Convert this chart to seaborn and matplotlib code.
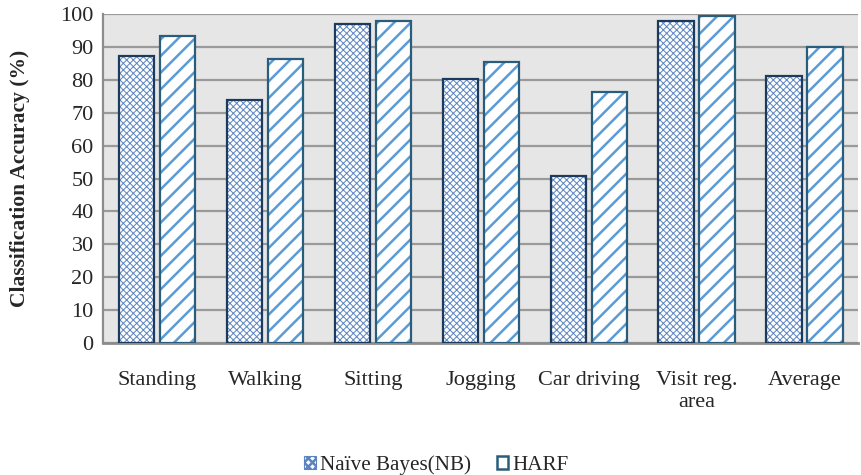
import numpy as np, pandas as pd
import seaborn as sns
import matplotlib.pyplot as plt
from matplotlib.patches import Rectangle

activities = ["Standing", "Walking", "Sitting", "Jogging", "Car driving", "Visit reg.\narea", "Average"]
nb_acc = [87.2, 73.9, 97.0, 80.2, 50.8, 97.9, 81.2]
harf_acc = [93.3, 86.3, 97.9, 85.4, 76.3, 99.4, 90.0]
methods = ["Naïve Bayes(NB)", "HARF"]

df = pd.DataFrame({
    "activity": activities * 2,
    "acc": nb_acc + harf_acc,
    "method": [methods[0]] * len(activities) + [methods[1]] * len(activities),
})

sns.set_style("white")
plt.rcParams["font.family"] = ["Liberation Serif", "DejaVu Serif"]
plt.rcParams["hatch.linewidth"] = 1.8

fig, ax = plt.subplots(figsize=(8.61, 4.75), dpi=100)
ax.set_facecolor("#e6e6e6")
sns.barplot(data=df, x="activity", y="acc", hue="method", ax=ax,
            width=0.76, gap=0.14, legend=False, zorder=3)

hatch_col = {methods[0]: "#5a84bf", methods[1]: "#5b9bd5"}
edge_col = {methods[0]: "#1c3a5c", methods[1]: "#2a5c7c"}
hatches = {methods[0]: "xxxxx", methods[1]: "//"}
hw = {methods[0]: 0.7, methods[1]: 1.8}

for cont, m in zip(ax.containers, methods):
    for p in cont:
        p.set_facecolor("white")
        p.set_edgecolor(hatch_col[m])
        p.set_hatch(hatches[m])
        p.set_linewidth(0)
        if hasattr(p, "set_hatch_linewidth"):
            p.set_hatch_linewidth(hw[m])
        ax.add_patch(Rectangle(p.get_xy(), p.get_width(), p.get_height(),
                               fill=False, edgecolor=edge_col[m], lw=1.6, zorder=4))

ax.set_ylim(0, 100)
ax.set_yticks(range(0, 101, 10))
ax.yaxis.grid(True, color="#9a9a9a", lw=1.6, zorder=0)
ax.set_axisbelow(True)
ax.set_xlim(-0.5, len(activities) - 0.5)
for s in ["top", "right"]:
    ax.spines[s].set_visible(False)
ax.spines["left"].set_color("#8c8c8c")
ax.spines["left"].set_linewidth(1.6)
ax.spines["bottom"].set_color("#8c8c8c")
ax.spines["bottom"].set_linewidth(2)
ax.tick_params(axis="both", labelsize=16, length=0)
ax.tick_params(axis="y", pad=7)
ax.tick_params(axis="x", pad=20)
ax.set_xlabel("")
ax.set_ylabel("Classification Accuracy (%)", fontsize=15.5, fontweight="bold", labelpad=22)

leg_h = [Rectangle((0, 0), 1, 1, facecolor="white", edgecolor=hatch_col[methods[0]], hatch="xxxx", lw=0.8),
         Rectangle((0, 0), 1, 1, facecolor="white", edgecolor=edge_col[methods[1]], lw=1.8)]
fig.legend(leg_h, methods, loc="lower center", bbox_to_anchor=(0.507, -0.04), ncol=2,
           frameon=False, fontsize=15.2, handlelength=0.55, handleheight=0.55,
           handletextpad=0.2, columnspacing=1.2)

plt.subplots_adjust(left=0.12, right=0.997, top=0.97, bottom=0.278)
plt.savefig("out.png", dpi=100)
